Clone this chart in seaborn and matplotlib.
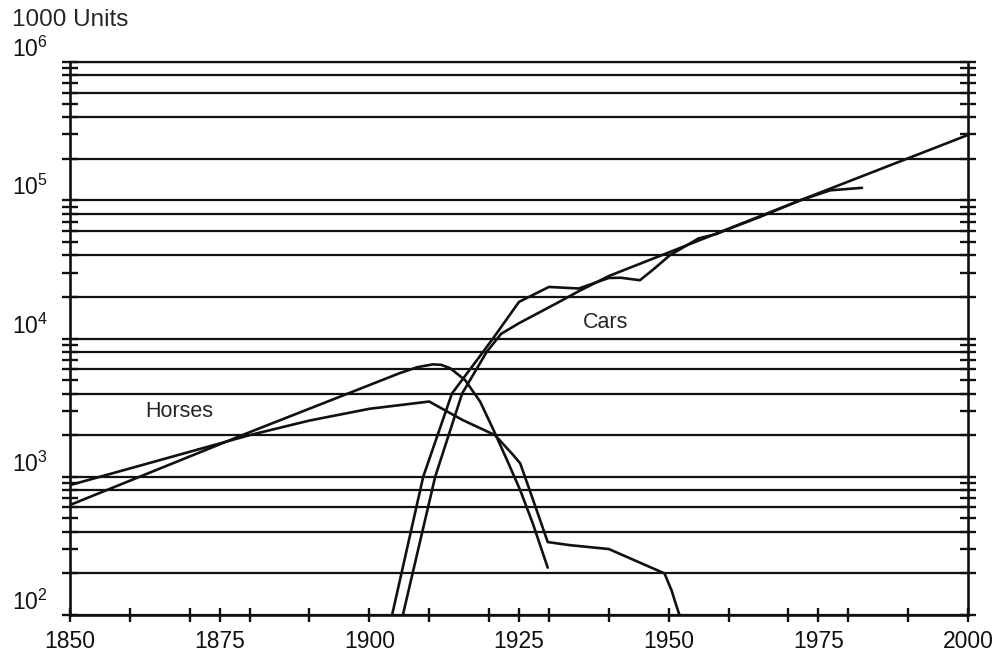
import numpy as np
import pandas as pd
import seaborn as sns
import matplotlib.pyplot as plt
from matplotlib.ticker import LogLocator, FuncFormatter, FixedLocator, MultipleLocator

# values (1000 units, log scale)
horses_fit_year = [1850, 1880, 1900, 1905, 1908, 1910.6, 1912, 1913.5, 1916, 1918.5,
                   1920.7, 1923, 1925.2, 1927.3, 1929.8]
horses_fit_val = [625, 2100, 4600, 5600, 6200, 6500, 6450, 6100, 5000, 3500,
                  2200, 1320, 800, 460, 220]

horses_year = [1850, 1880, 1890, 1900, 1910, 1915.6, 1921, 1924, 1925.2, 1927.2,
               1929.8, 1933.5, 1940, 1949.3, 1950.5, 1951.2, 1951.8, 1952.2]
horses_val = [870, 2000, 2550, 3100, 3500, 2570, 2000, 1440, 1250, 710,
              337, 320, 300, 200, 150, 120, 100, 90]

cars_fit_year = [1905.6, 1911, 1915.5, 1919.6, 1922, 1925, 1931.3, 1935, 1940, 1950,
                 1972, 2000]
cars_fit_val = [100, 1000, 4000, 8000, 10800, 12900, 18000, 22000, 28300, 41900,
                100000, 296700]

cars_year = [1903.8, 1909, 1913.8, 1919, 1921, 1925, 1930, 1935, 1940, 1942, 1945.2,
             1947.4, 1950.2, 1955, 1958, 1960, 1965, 1972, 1977, 1982.3]
cars_val = [100, 1000, 4000, 8000, 10500, 18400, 23600, 23000, 27400, 27500, 26400,
            31500, 40000, 53000, 57000, 62000, 75000, 100000, 118000, 123000]

x_labels = [1850, 1875, 1900, 1925, 1950, 1975, 2000]

frames = []
for name, yr, val in [("horses_fit", horses_fit_year, horses_fit_val),
                      ("horses", horses_year, horses_val),
                      ("cars_fit", cars_fit_year, cars_fit_val),
                      ("cars", cars_year, cars_val)]:
    frames.append(pd.DataFrame({"year": yr, "value": val, "series": name}))
df = pd.concat(frames, ignore_index=True)

sns.set_style("white")
plt.rcParams['font.family'] = ['Liberation Sans', 'DejaVu Sans']
plt.rcParams['mathtext.default'] = 'regular'

fig = plt.figure(figsize=(9.97, 6.57), dpi=100)
ax = fig.add_axes([70 / 997, 1 - 615 / 657, 898 / 997, 553 / 657])

sns.lineplot(data=df, x="year", y="value", units="series", estimator=None,
             sort=False, color="#111111", lw=1.9, ax=ax)

ax.set_yscale("log")
ax.set_xlim(1850, 2000)
ax.set_ylim(100, 1e6)

# gridlines at 1,2,4,6,8 x 10^n ; plain ticks at 3,5,7,9
ax.yaxis.set_major_locator(LogLocator(base=10, subs=(1, 2, 4, 6, 8)))
ax.yaxis.set_minor_locator(LogLocator(base=10, subs=(3, 5, 7, 9)))


def dec_fmt(v, pos):
    e = np.log10(v)
    if abs(e - round(e)) < 1e-6:
        return r"$10^{%d}$" % round(e)
    return ""


ax.yaxis.set_major_formatter(FuncFormatter(dec_fmt))
ax.yaxis.set_minor_formatter(FuncFormatter(lambda v, p: ""))
ax.yaxis.grid(True, which="major", color="#111111", lw=1.6)
ax.xaxis.grid(False)

ax.xaxis.set_major_locator(FixedLocator(x_labels))
ax.xaxis.set_minor_locator(MultipleLocator(10))
ax.set_xticklabels([str(v) for v in x_labels])

ax.tick_params(axis="y", which="both", direction="inout", length=12, width=1.7,
               left=True, right=True, labelsize=16.5, pad=10, colors="#111111")
ax.tick_params(axis="x", which="both", direction="inout", length=10, width=1.7,
               bottom=True, labelsize=16.5, pad=6, colors="#111111")
for lab in ax.get_yticklabels():
    lab.set_verticalalignment("bottom")

for sp in ax.spines.values():
    sp.set_color("#111111")
    sp.set_linewidth(1.9)
ax.spines["top"].set_linewidth(1.6)

ax.set_xlabel("")
ax.set_ylabel("")
ax.text(1868.2, 2960, "Horses", fontsize=15.5, ha="center", va="center")
ax.text(1939.4, 13100, "Cars", fontsize=15.5, ha="center", va="center")
fig.text(12 / 997, 1 - 31 / 657, "1000 Units", fontsize=17.5, ha="left", va="bottom")

fig.savefig("out.png", dpi=100)
